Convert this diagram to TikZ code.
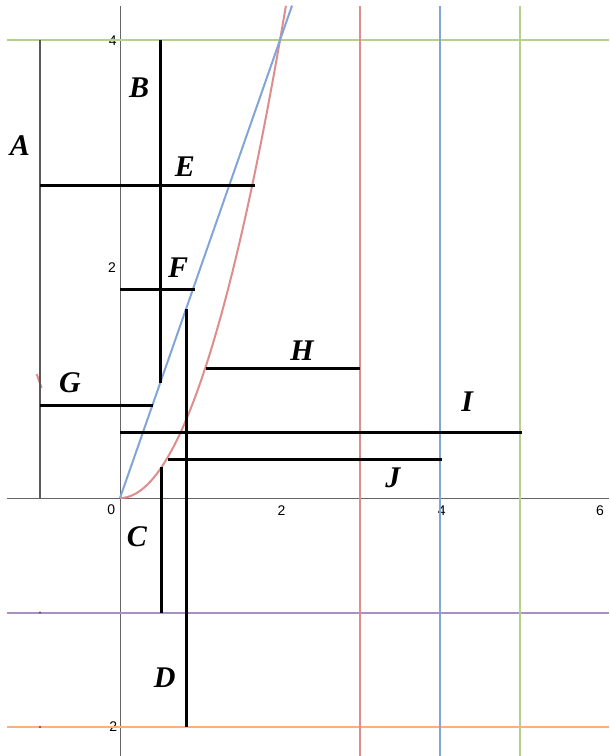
\documentclass[tikz,border=0pt]{standalone}
\usepackage{fontspec}
\setmainfont{Liberation Serif}
\newfontfamily\tickfont{Liberation Sans}
\usepackage{xcolor}
\usepackage{tikz}
\usetikzlibrary{positioning}

\definecolor{plotred}{RGB}{222,140,140}
\definecolor{plotblue}{RGB}{130,165,215}
\definecolor{plotgreen}{RGB}{180,210,135}
\definecolor{plotpurple}{RGB}{165,145,195}
\definecolor{plotorange}{RGB}{250,175,125}

\begin{document}
\begin{tikzpicture}[
    x=40pt, y=57.25pt,
    axis/.style={draw=black!60, line width=0.5pt},
    guide/.style={line width=1pt},
    seg/.style={draw=black, line width=1.5pt},
    lbl/.style={font=\fontsize{15}{18}\selectfont\bfseries\itshape, inner sep=0pt},
    tick/.style={font=\tickfont\fontsize{7}{8}\selectfont, inner sep=0pt}
]
    \useasboundingbox (-1.5,-2.253) rectangle (6.1125,4.349);

    % Axes
    \draw[axis] (-1.41,0) -- (6.11,0);
    \draw[axis] (0,-2.25) -- (0,4.30);

    % Tick labels
    \node[tick] (t4) at (-0.09,3.99) {4};
    \node[tick] (t2) at (-0.10,2.01) {2};
    \node[tick] (t0) at (-0.11,-0.105) {0};
    \node[tick] (x2) at (2.02,-0.11) {2};
    \node[tick] (x4) at (4.02,-0.11) {4};
    \node[tick] (x6) at (6.00,-0.11) {6};
    \node[tick, anchor=east] (tm2) at (-0.03,-2.0) {-2};

    % Coloured guide lines
    \draw[guide, plotgreen] (-1.41,4) -- (6.11,4);
    \draw[guide, plotpurple] (-1.41,-1) -- (6.11,-1);
    \draw[guide, plotorange] (-1.41,-2) -- (6.11,-2);
    \draw[guide, plotred] (3,-2.25) -- (3,4.30);
    \draw[guide, plotblue] (4,-2.25) -- (4,4.30);
    \draw[guide, plotgreen] (5,-2.25) -- (5,4.30);

    % Curves
    \draw[guide, plotred] plot[domain=0:2.074, samples=60] (\x,{\x*\x});
    \draw[guide, plotred] plot[domain=-1.04:-0.98, samples=8] (\x,{\x*\x});
    \draw[guide, plotblue] (0,0) -- (2.15,4.30);

    % Small marks on the left
    \fill[black!70] (-1,-1) circle (0.6pt);
    \fill[black!70] (-1,-2) circle (0.6pt);

    % Segments
    \draw[draw=black!65, line width=1pt] (-1,4) -- (-1,0);          % A
    \draw[seg] (0.5,4) -- (0.5,1);                                  % B
    \draw[seg] (0.52,0.27) -- (0.52,-1);                            % C
    \draw[seg] (0.825,1.65) -- (0.825,-2);                          % D
    \draw[seg] (-1,2.73) -- (1.69,2.73);                            % E
    \draw[seg] (0,1.825) -- (0.94,1.825);                           % F
    \draw[seg] (-1,0.81) -- (0.41,0.81);                            % G
    \draw[seg] (1.07,1.13) -- (3,1.13);                             % H
    \draw[seg] (0,0.57) -- (5.02,0.57);                             % I
    \draw[seg] (0.6,0.34) -- (4.02,0.34);                           % J

    % Labels
    \node[lbl] (A) at (-1.25,3.08) {A};
    \node[lbl] (B) at (0.24,3.58) {B};
    \node[lbl] (C) at (0.21,-0.34) {C};
    \node[lbl] (D) at (0.56,-1.57) {D};
    \node[lbl] (E) at (0.81,2.89) {E};
    \node[lbl] (F) at (0.725,2.01) {F};
    \node[lbl] (G) at (-0.625,1.01) {G};
    \node[lbl] (H) at (2.275,1.29) {H};
    \node[lbl] (I) at (4.34,0.84) {I};
    \node[lbl] (J) at (3.41,0.175) {J};

\end{tikzpicture}
\end{document}
